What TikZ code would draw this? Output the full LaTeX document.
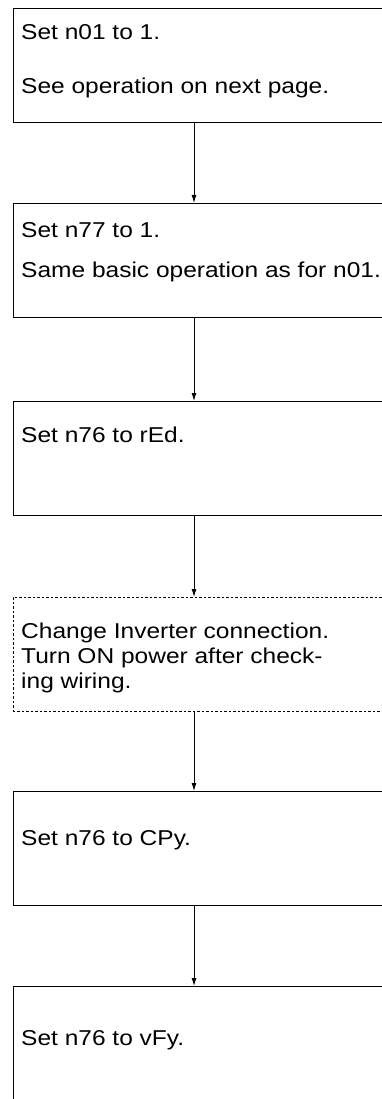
\documentclass[tikz,border=0pt]{standalone}
\usepackage{fontspec}
\setmainfont[FakeStretch=1.14]{Liberation Sans}
\usetikzlibrary{arrows.meta}
\begin{document}
\begin{tikzpicture}[x=1pt,y=1pt,
  boxline/.style={rectangle, draw=black, line width=0.9pt, minimum width=420pt, minimum height=114pt, inner sep=0pt, anchor=north west},
  dotbox/.style={boxline, dash pattern=on 2.5pt off 2pt, line width=0.8pt},
  txt/.style={anchor=base west, inner sep=0pt, font=\fontsize{21.5}{25}\selectfont},
  flow/.style={draw=black, line width=0.9pt, -{Latex[length=8pt,width=5pt]}}]
\useasboundingbox (0,0) rectangle (382,-1099);
\clip (0,0) rectangle (382,-1099);
\coordinate (ax) at (194,0);
% boxes
\node[boxline] (b1) at (12.5,-8) {};
\node[boxline] (b2) at (12.5,-203) {};
\node[boxline] (b3) at (12.5,-401) {};
\node[dotbox] (b4) at (12.5,-597) {};
\node[boxline] (b5) at (12.5,-791) {};
\node[boxline, minimum height=140pt] (b6) at (12.5,-986) {};
% texts
\node[txt] (t1a) at (21,-40) {Set n01 to 1.};
\node[txt] (t1b) at (21,-94) {See operation on next page.};
\node[txt] (t2a) at (21,-237) {Set n77 to 1.};
\node[txt] (t2b) at (21,-277) {Same basic operation as for n01.};
\node[txt] (t3a) at (21,-442) {Set n76 to rEd.};
\node[txt] (t4a) at (21,-638) {Change Inverter connection.};
\node[txt] (t4b) at (21,-663) {Turn ON power after check-};
\node[txt] (t4c) at (21,-688) {ing wiring.};
\node[txt] (t5a) at (21,-845) {Set n76 to CPy.};
\node[txt] (t6a) at (21,-1045) {Set n76 to vFy.};
% connectors
\draw[flow] (b1.south -| ax) -- (b2.north -| ax);
\draw[flow] (b2.south -| ax) -- (b3.north -| ax);
\draw[flow] (b3.south -| ax) -- (b4.north -| ax);
\draw[flow] (b4.south -| ax) -- (b5.north -| ax);
\draw[flow] (b5.south -| ax) -- (b6.north -| ax);
\end{tikzpicture}
\end{document}
